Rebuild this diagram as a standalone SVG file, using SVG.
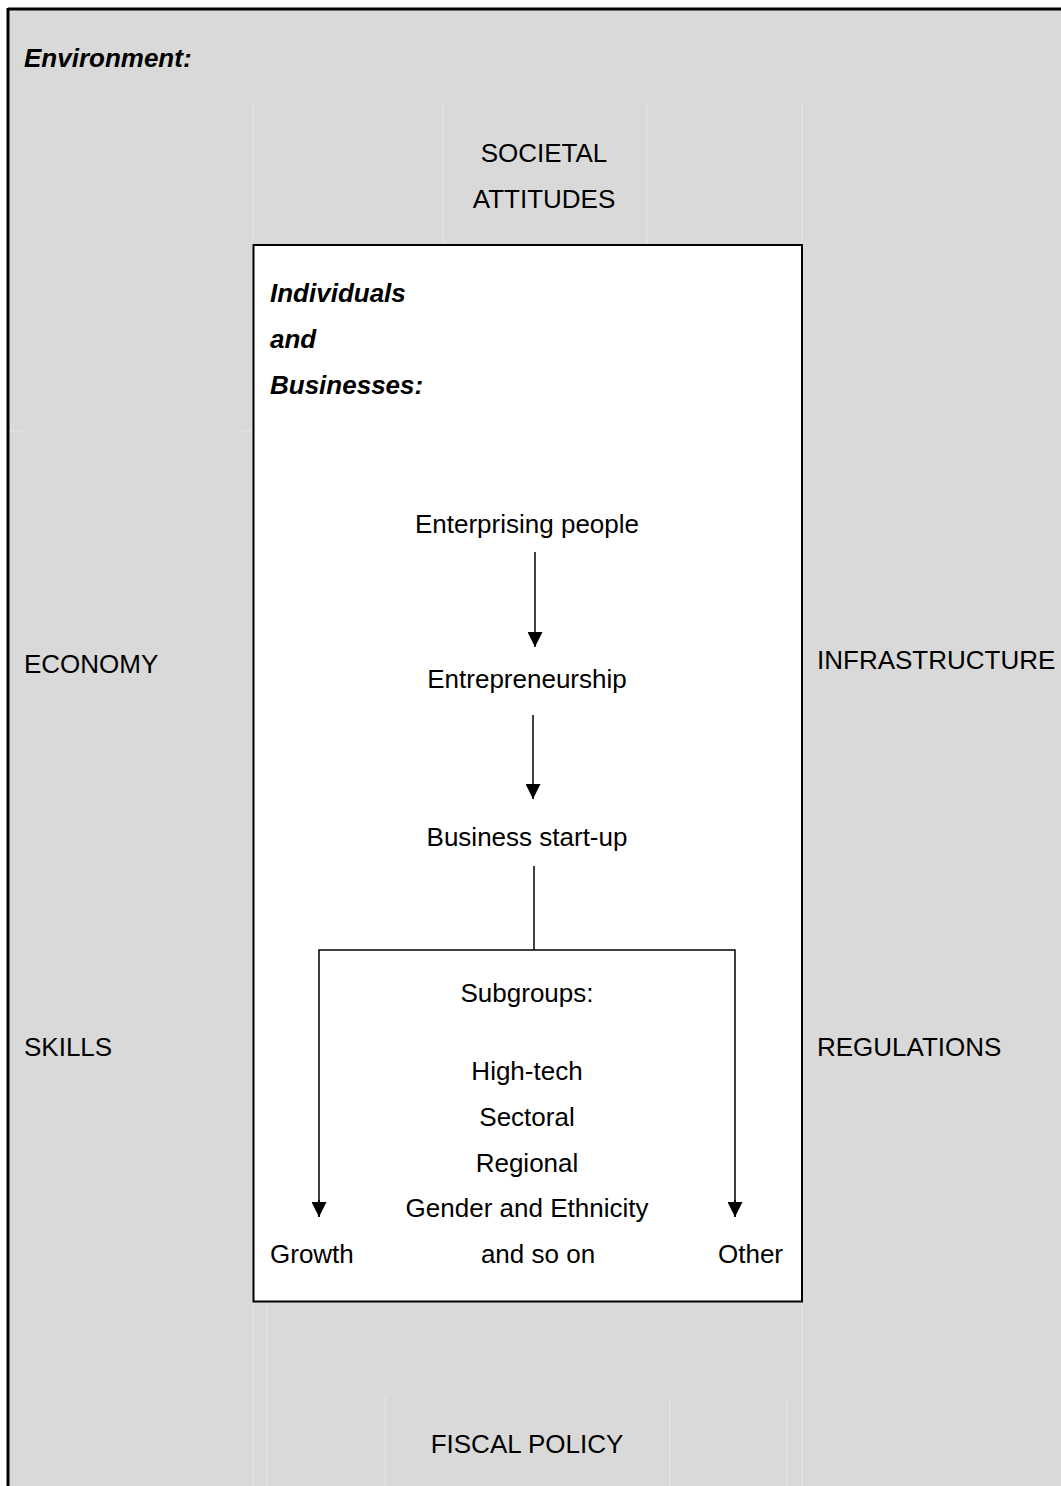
<svg xmlns="http://www.w3.org/2000/svg" width="1061" height="1486" viewBox="0 0 1061 1486">
<defs>
<style>
text{font-family:"Liberation Sans",Arial,sans-serif;font-size:26px;fill:#000}
.bi{font-weight:bold;font-style:italic}
.c{text-anchor:middle}
.faint{stroke:#e6e6e6;stroke-width:1;fill:none}
.ln{stroke:#000;stroke-width:1.5;fill:none}
</style>
<marker id="ah" viewBox="0 0 15 15" refX="15" refY="7.5" markerWidth="15" markerHeight="15" markerUnits="userSpaceOnUse" orient="auto">
<path d="M0,0 L15,7.5 L0,15 Z" fill="#000"/>
</marker>
</defs>
<rect x="0" y="0" width="1061" height="1486" fill="#fff"/>
<g id="environment">
<rect x="8" y="9" width="1060" height="1485" fill="#d9d9d9"/>
<line x1="8" y1="9" x2="1061" y2="9" stroke="#000" stroke-width="3"/>
<line x1="8" y1="8" x2="8" y2="1486" stroke="#000" stroke-width="3"/>
<g class="faint">
<line x1="253" y1="104" x2="253" y2="245"/>
<line x1="443" y1="104" x2="443" y2="245"/>
<line x1="647" y1="104" x2="647" y2="245"/>
<line x1="802" y1="104" x2="802" y2="245"/>
<line x1="10" y1="431" x2="22" y2="431"/>
<line x1="239" y1="431" x2="253" y2="431"/>
<line x1="253" y1="1302" x2="253" y2="1486"/>
<line x1="267" y1="1302" x2="267" y2="1486"/>
<line x1="802" y1="1302" x2="802" y2="1486"/>
<line x1="385" y1="1397" x2="385" y2="1486"/>
<line x1="670" y1="1397" x2="670" y2="1486"/>
<line x1="787" y1="1397" x2="787" y2="1486"/>
</g>
<text class="bi" x="24" y="67">Environment:</text>
</g>
<g id="societal-attitudes">
<text class="c" x="544" y="162">SOCIETAL</text>
<text class="c" x="544" y="208">ATTITUDES</text>
</g>
<g id="economy"><text x="24" y="673">ECONOMY</text></g>
<g id="infrastructure"><text x="817" y="669">INFRASTRUCTURE</text></g>
<g id="skills"><text x="24" y="1056">SKILLS</text></g>
<g id="regulations"><text x="817" y="1056">REGULATIONS</text></g>
<g id="fiscal-policy"><text class="c" x="527" y="1453">FISCAL POLICY</text></g>
<g id="individuals-businesses">
<rect x="253.5" y="245" width="548.5" height="1056.5" fill="#fff" stroke="#000" stroke-width="2"/>
<text class="bi" x="270" y="302">Individuals</text>
<text class="bi" x="270" y="348">and</text>
<text class="bi" x="270" y="394">Businesses:</text>
</g>
<g id="enterprising-people"><text class="c" x="527" y="533">Enterprising people</text></g>
<g id="entrepreneurship"><text class="c" x="527" y="688">Entrepreneurship</text></g>
<g id="business-start-up"><text class="c" x="527" y="846">Business start-up</text></g>
<g id="subgroups">
<text class="c" x="527" y="1002">Subgroups:</text>
<text class="c" x="527" y="1080">High-tech</text>
<text class="c" x="527" y="1126">Sectoral</text>
<text class="c" x="527" y="1172">Regional</text>
<text class="c" x="527" y="1217">Gender and Ethnicity</text>
<text class="c" x="538" y="1263">and so on</text>
</g>
<g id="growth"><text x="270" y="1263">Growth</text></g>
<g id="other"><text x="718" y="1263">Other</text></g>
<g id="connectors">
<line class="ln" x1="535" y1="552" x2="535" y2="647" marker-end="url(#ah)"/>
<line class="ln" x1="533" y1="715" x2="533" y2="799" marker-end="url(#ah)"/>
<line class="ln" x1="534" y1="866" x2="534" y2="950"/>
<polyline class="ln" points="319,1217 319,950 735,950 735,1217" marker-start="none"/>
<line class="ln" x1="319" y1="1200" x2="319" y2="1217" marker-end="url(#ah)"/>
<line class="ln" x1="735" y1="1200" x2="735" y2="1217" marker-end="url(#ah)"/>
</g>
</svg>
